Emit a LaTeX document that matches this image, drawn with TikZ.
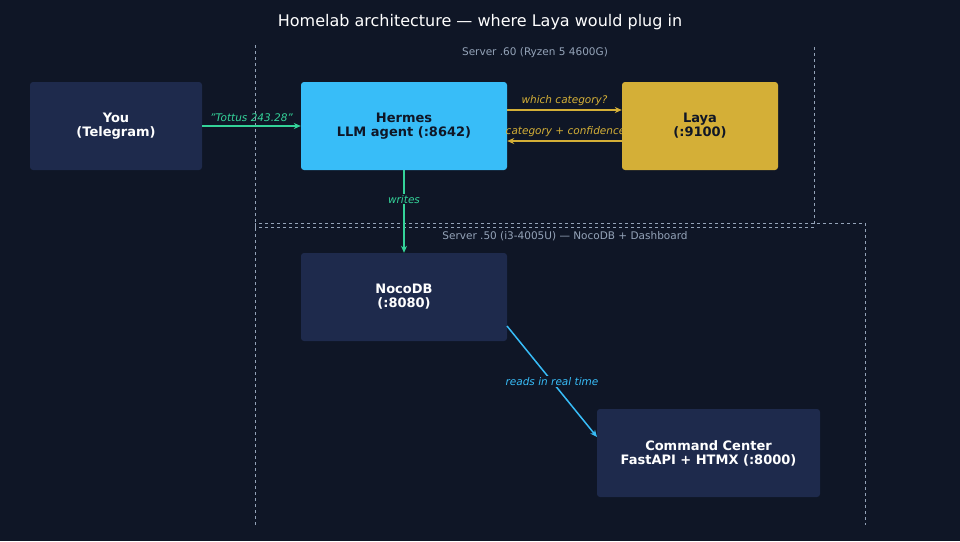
\documentclass[tikz,border=0pt]{standalone}
\usepackage{fontspec}
\setmainfont{DejaVu Sans}
\usetikzlibrary{arrows.meta}
\definecolor{bg}{HTML}{0F1626}
\definecolor{dbox}{HTML}{1E2A4C}
\definecolor{bblue}{HTML}{38BDF8}
\definecolor{gold}{HTML}{D4AF37}
\definecolor{grn}{HTML}{34D399}
\definecolor{gry}{HTML}{94A3B8}
\begin{document}
\begin{tikzpicture}[x=1pt,y=-1pt,
  box/.style={rounded corners=3pt,minimum width=#1,minimum height=88pt,align=center,font=\bfseries\fontsize{13}{14}\selectfont,text=white,fill=dbox},
  arr/.style={-{Stealth[length=7pt,width=6pt]},line width=1.5pt},
  lab/.style={font=\itshape\fontsize{10.5}{12}\selectfont},
  zone/.style={gry,dashed,line width=0.9pt}]
\fill[bg] (0,0) rectangle (960,541);
\useasboundingbox (0,0) rectangle (960,541);
\node[white,font=\fontsize{16}{18}\selectfont] (title) at (480,22) {Homelab architecture — where Laya would plug in};
\draw[zone] (255,45) -- (255,227) -- (814,227) -- (814,45);
\draw[zone] (255,525) -- (255,223) -- (865,223) -- (865,525);
\node[gry,font=\fontsize{10.5}{12}\selectfont] (z60) at (535,53) {Server .60 (Ryzen 5 4600G)};
\node[gry,font=\fontsize{10.5}{12}\selectfont] (z50) at (565,236) {Server .50 (i3-4005U) — NocoDB + Dashboard};
\node[box=172pt] (you) at (116,126) {You\\(Telegram)};
\node[box=206pt,fill=bblue,text=bg] (hermes) at (404,126) {Hermes\\LLM agent (:8642)};
\node[box=156pt,fill=gold,text=bg] (laya) at (700,126) {Laya\\(:9100)};
\node[box=206pt] (noco) at (404,297) {NocoDB\\(:8080)};
\node[box=223pt] (cc) at (708.5,453) {Command Center\\FastAPI + HTMX (:8000)};
\draw[arr,grn] (you) -- node[lab,above,pos=0.5] {"Tottus 243.28"} (hermes);
\draw[arr,gold] (hermes.east|-0,110) -- node[lab,above] {which category?} (laya.west|-0,110);
\draw[arr,gold] (laya.west|-0,141) -- node[lab,above,xshift=1pt] {category + confidence} (hermes.east|-0,141);
\draw[arr,grn] (hermes) -- node[lab,pos=0.35,fill=bg,inner sep=1pt] {writes} (noco);
\draw[arr,bblue] (507,326) -- node[lab,pos=0.5,fill=bg,inner sep=1pt] {reads in real time} (597,437);
\end{tikzpicture}
\end{document}
